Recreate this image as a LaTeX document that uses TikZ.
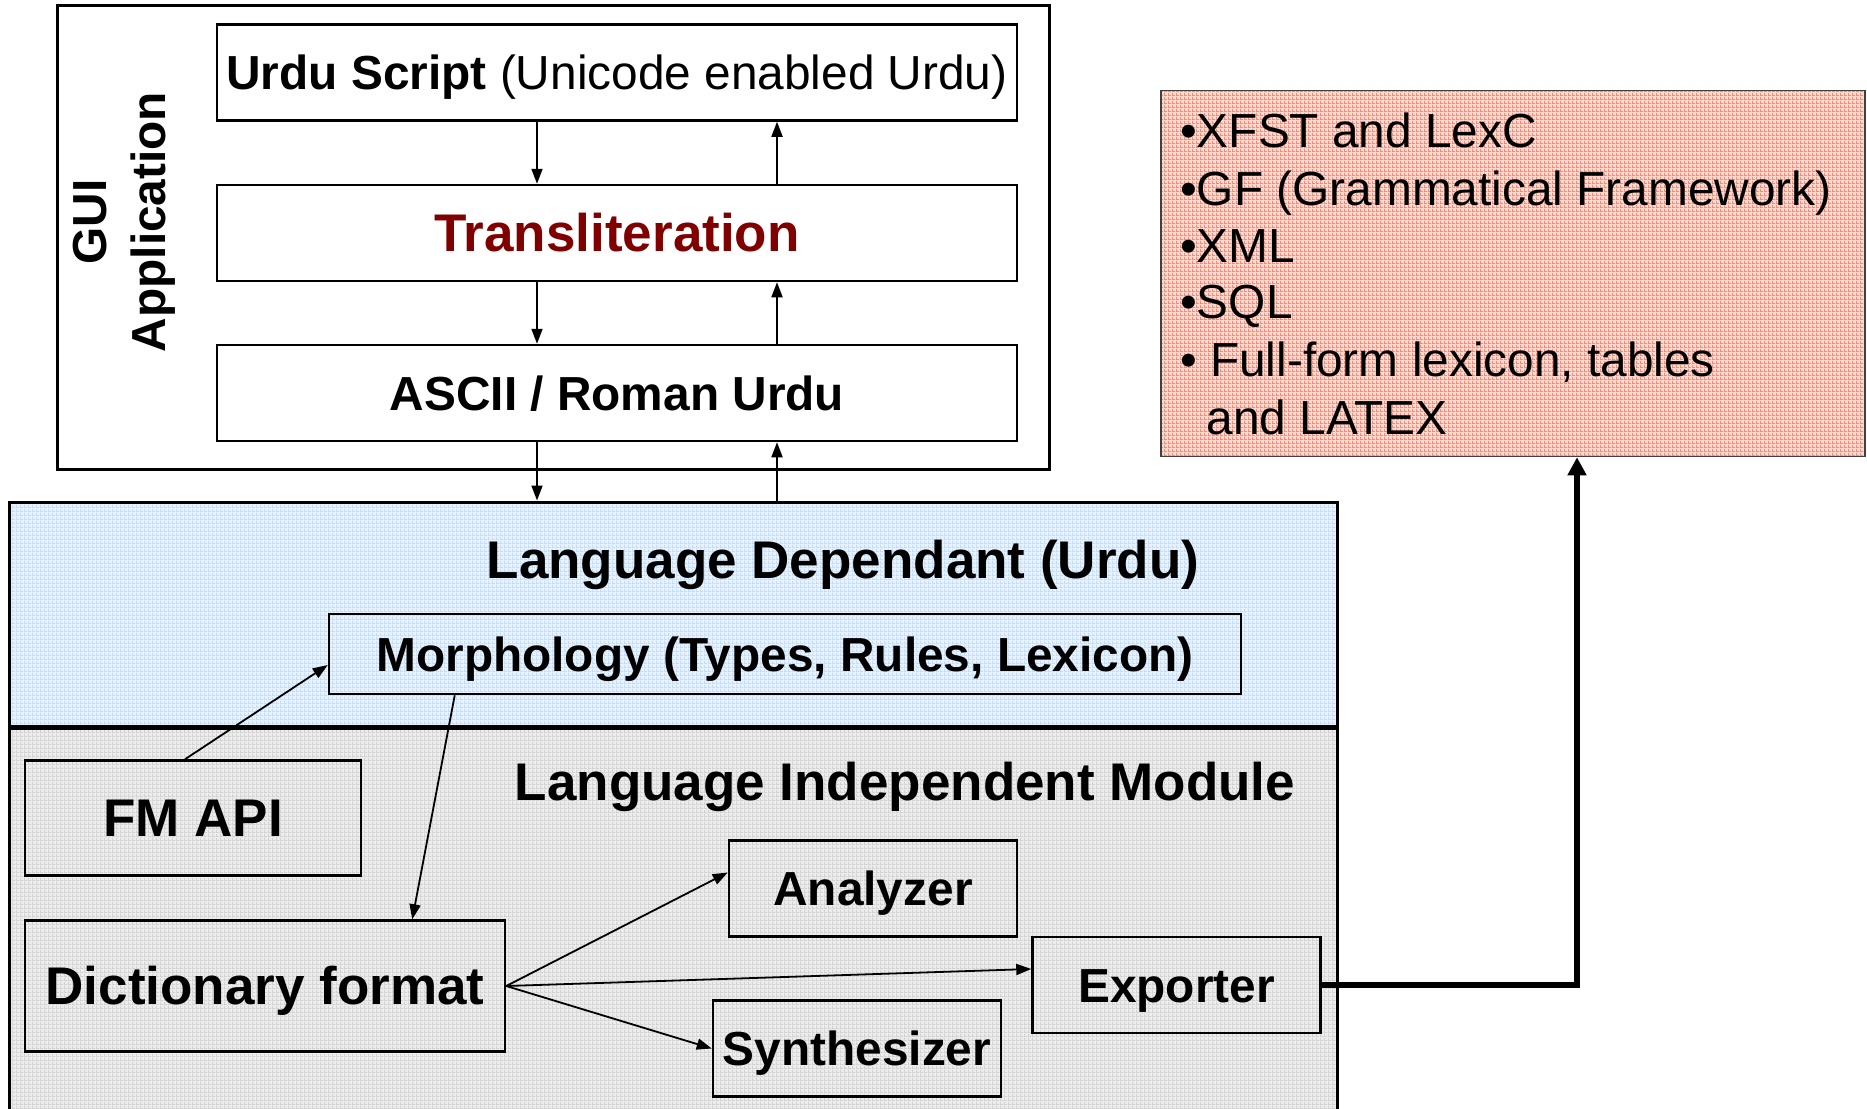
\documentclass[tikz,border=0pt]{standalone}
\usepackage{fontspec}
\setmainfont{Liberation Sans}
\usetikzlibrary{arrows.meta,patterns}
\pgfdeclarepatternformonly{cellgrid}{\pgfpointorigin}{\pgfpoint{4pt}{4pt}}{\pgfpoint{4pt}{4pt}}{%
  \pgfpathrectangle{\pgfpointorigin}{\pgfpoint{4pt}{1pt}}%
  \pgfpathrectangle{\pgfpointorigin}{\pgfpoint{1pt}{4pt}}%
  \pgfusepath{fill}}
\definecolor{bluebase}{HTML}{E6F2FE}
\definecolor{blueline}{HTML}{C4DEFA}
\definecolor{graybase}{HTML}{ECECEC}
\definecolor{grayline}{HTML}{D2D2D2}
\definecolor{redbase}{HTML}{FCD9CF}
\definecolor{redline}{HTML}{F28C7A}
\definecolor{darkred}{HTML}{800000}
\newcommand\fntS{\fontsize{47.8pt}{57.5pt}\selectfont}
\newcommand\fntL{\fontsize{53pt}{63pt}\selectfont}
\begin{document}
\begin{tikzpicture}[x=1pt,y=-1pt,
  box/.style={draw=black, line width=2.5pt, inner sep=0pt, font=\fntS\bfseries, text height=34.2pt, text depth=0pt},
  bigbox/.style={box, font=\fntL\bfseries, text height=37.9pt},
  band/.style={draw=black, line width=3pt, inner sep=0pt},
  title/.style={font=\fntL\bfseries, anchor=base, inner sep=0pt},
  redtxt/.style={font=\fntS, anchor=base west, inner sep=0pt},
  arr/.style={line width=1.8pt, -{Triangle[length=15pt,width=11pt]}},
  bigarr/.style={line width=6pt, -{Triangle[length=18pt,width=18pt]}}]
\useasboundingbox (0,0) rectangle (1867,1108);
\fill[white] (0,0) rectangle (1867,1108);

% GUI frame
\node[band, minimum width=992pt, minimum height=463pt] (gui) at (553,237.5) {};
\node[font=\fntS\bfseries, rotate=90, align=center, inner sep=0pt,
      execute at begin node={\setlength{\baselineskip}{59pt}}] (guilbl) at (124,222) {GUI\\Application};
\node[box, fill=white, minimum width=800pt, minimum height=96pt] (urdu) at (617,72.5)
  {Urdu Script \mdseries(Unicode enabled Urdu)};
\node[bigbox, fill=white, text=darkred, minimum width=800pt, minimum height=96pt] (translit) at (617,233) {Transliteration};
\node[box, fill=white, minimum width=800pt, minimum height=96pt] (ascii) at (617,393) {ASCII / Roman Urdu};

% Bands
\node[band, preaction={fill=bluebase}, pattern=cellgrid, pattern color=blueline,
      minimum width=1328pt, minimum height=224pt] (dep) at (673,614) {};
\node[band, preaction={fill=graybase}, pattern=cellgrid, pattern color=grayline,
      minimum width=1328pt, minimum height=386pt] (ind) at (673,921) {};
\node[title] (deptitle) at (843,578) {Language Dependant (Urdu)};
\node[title] (indtitle) at (905,800) {Language Independent Module};

\node[box, minimum width=912pt, minimum height=80pt] (morph) at (785,654) {Morphology (Types, Rules, Lexicon)};
\node[bigbox, minimum width=336pt, minimum height=115pt] (fmapi) at (193,818) {FM API};
\node[bigbox, minimum width=480pt, minimum height=131pt] (dict) at (265,986) {Dictionary format};
\node[box, minimum width=288pt, minimum height=96pt] (analyzer) at (873,888.5) {Analyzer};
\node[box, minimum width=288pt, minimum height=96pt] (synth) at (857,1048.5) {Synthesizer};
\node[box, minimum width=288pt, minimum height=96pt] (exporter) at (1176.5,985) {Exporter};

% Red box
\node[draw=black!75, line width=1.5pt, inner sep=0pt, preaction={fill=redbase}, pattern=cellgrid, pattern color=redline,
      minimum width=704pt, minimum height=366pt] (formats) at (1513,273.5) {};
\node[redtxt] (f1) at (1180,147.3) {•XFST and LexC};
\node[redtxt] (f2) at (1180,205) {•GF (Grammatical Framework)};
\node[redtxt] (f3) at (1180,262) {•XML};
\node[redtxt] (f4) at (1180,318.5) {•SQL};
\node[redtxt] (f5) at (1180,376.5) {• Full-form lexicon, tables};
\node[redtxt] (f6) at (1180,434.5) {\hspace*{0.556em}and LATEX};

% GUI arrows
\coordinate (dx) at (537,0);
\coordinate (ux) at (777,0);
\draw[arr] (urdu.south -| dx) -- (translit.north -| dx);
\draw[arr] (translit.south -| dx) -- (ascii.north -| dx);
\draw[arr] (ascii.south -| dx) -- (dep.north -| dx);
\draw[arr] (translit.north -| ux) -- (urdu.south -| ux);
\draw[arr] (ascii.north -| ux) -- (translit.south -| ux);
\draw[arr] (dep.north -| ux) -- (ascii.south -| ux);

% Module arrows
\draw[arr] ([xshift=-8pt]fmapi.north) -- ([yshift=-11pt]morph.west);
\draw[arr] ([xshift=127pt]morph.south west) -- ([xshift=-94pt]dict.north east);
\draw[arr] (dict.east) -- ([yshift=16pt]analyzer.west);
\draw[arr] (dict.east) -- ([yshift=16pt]exporter.west);
\draw[arr] (dict.east) -- (synth.west);
\draw[bigarr] (exporter.east) -| ([xshift=64pt]formats.south);
\end{tikzpicture}
\end{document}
